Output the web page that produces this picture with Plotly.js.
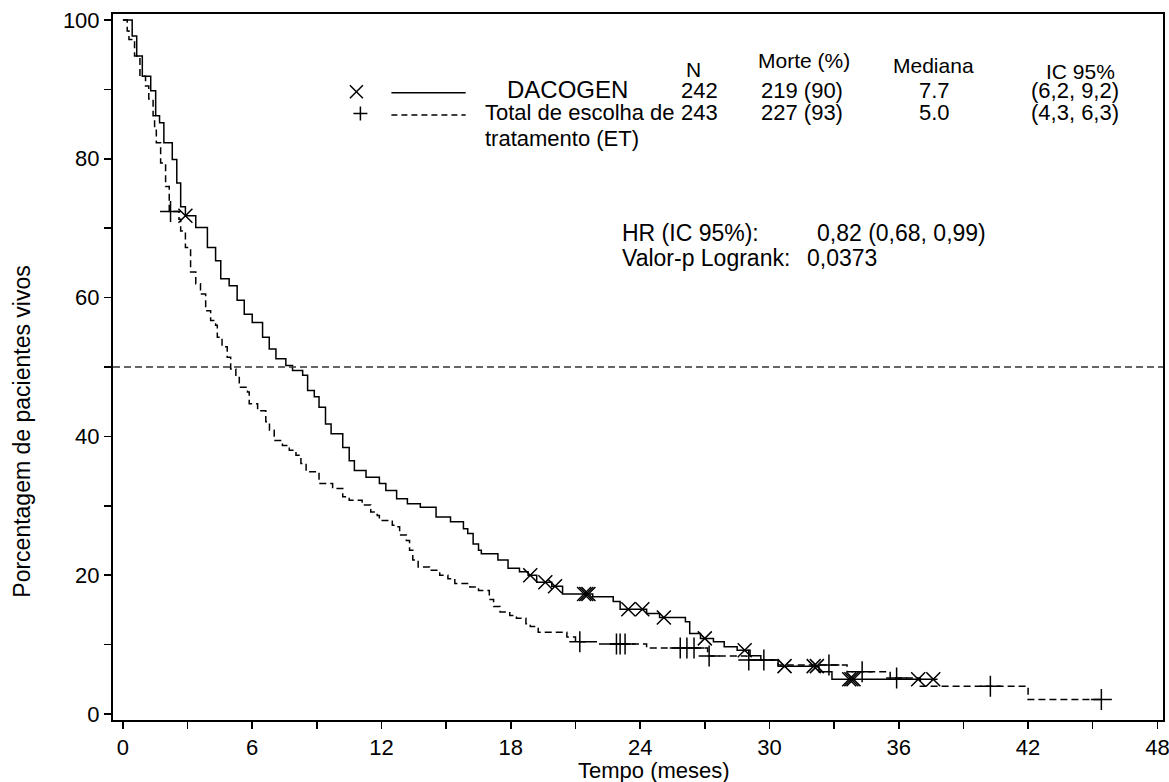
<!DOCTYPE html>
<html>
<head>
<meta charset="utf-8">
<script src="https://cdn.plot.ly/plotly-3.0.1.min.js"></script>
<style>html,body{margin:0;padding:0;background:#fff;}#chart{width:1169px;height:782px;}</style>
</head>
<body>
<div id="chart"></div>
<script>
// ---- Data ----
const dacTime = [0,0.43,0.64,0.9,1.29,1.52,1.7,1.9,2.29,2.5,2.68,2.9,3.38,3.92,4.3,4.54,4.93,5.3,5.63,6.0,6.48,6.79,7.1,7.56,7.87,8.34,8.57,8.88,9.1,9.4,9.66,10.2,10.5,10.74,11.28,11.9,12.2,12.7,13.2,13.8,14.53,15.2,15.8,16.0,16.25,16.5,16.63,17.4,17.87,18.4,18.8,19.2,19.9,20.4,21.8,22.75,23.07,24.3,24.9,26.1,26.3,26.8,27.4,27.9,28.5,29.1,29.6,30.4,32.3,32.9,37.8];
const dacSurv = [100,97.7,94.8,91.9,89.8,86.2,85.2,82.3,79.9,76.5,73.1,71.8,70.1,67.2,65.3,62.7,61.7,59.6,57.6,56.4,54.3,52.6,51.2,50.2,49.5,48.8,46.6,45.7,44.2,41.8,40.4,38.4,36.5,35.1,34.1,33.2,32.2,31.0,30.3,29.8,28.4,27.7,26.7,26.0,24.5,23.6,23.1,22.2,21.0,20.5,20.0,19.0,18.4,17.3,16.9,16.2,15.1,14.5,13.9,13.3,11.6,10.9,10.4,9.7,9.2,8.4,7.8,6.9,6.1,5.0,5.0];
const dacCensTime = [2.9,18.9,19.6,20.05,21.4,21.5,21.6,23.45,24.1,25.1,27.0,28.85,30.7,32.05,32.2,33.7,33.8,33.9,36.9,37.6];
const dacCensSurv = [71.8,20.0,19.0,18.4,17.3,17.3,17.3,15.1,15.1,13.9,10.9,9.2,6.9,6.9,6.9,5.0,5.0,5.0,5.0,5.0];

const etTime = [0,0.2,0.28,0.54,0.79,1.05,1.2,1.4,1.47,1.55,1.75,1.98,2.15,2.6,2.68,2.9,3.14,3.38,3.6,3.84,4.07,4.3,4.38,4.6,4.84,5.0,5.24,5.4,5.78,5.86,6.25,6.63,6.8,7.02,7.4,7.72,8.03,8.26,8.5,9.1,9.73,10.2,10.5,11.1,11.5,11.8,11.9,12.5,12.7,12.84,13.15,13.3,13.45,13.7,14.23,14.7,15.08,15.4,16.1,16.5,17.0,17.2,17.5,17.95,18.26,18.7,18.9,19.27,20.6,21.0,22.0,24.3,27.13,28.95,30.4,33.6,35.6,37.0,42.0,45.4];
const etSurv = [100,98.4,97.2,94.8,91.9,90.5,88.6,86.2,84.3,82.3,79.4,76.0,72.4,71.3,69.6,67.2,63.7,62.0,60.5,58.1,56.7,56.0,54.3,52.9,51.4,49.7,48.5,47.1,46.4,44.7,43.7,42.1,40.9,39.4,38.7,38.0,37.3,36.1,34.9,33.2,32.5,31.3,30.8,30.1,29.1,28.6,27.9,27.2,27.0,25.8,25.0,23.6,22.2,21.2,20.7,20.0,19.5,18.8,18.3,17.8,16.5,15.5,14.7,14.2,13.8,13.0,12.6,11.8,11.1,10.4,10.1,9.5,8.35,7.77,7.05,6.1,5.2,4.0,2.1,2.1];
const etCensTime = [2.21,21.2,22.9,23.07,23.3,25.86,26.17,26.5,27.2,29.04,29.74,32.76,34.3,35.9,40.25,45.4];
const etCensSurv = [72.4,10.4,10.1,10.1,10.1,9.5,9.5,9.5,8.35,7.77,7.77,7.05,6.1,5.2,4.0,2.1];

const xTicks = [0,6,12,18,24,30,36,42,48];
const yTicks = [0,20,40,60,80,100];
const medianLine = 50;

const headers = ["N","Morte (%)","Mediana","IC 95%"];
const groupNames = ["DACOGEN","Total de escolha de", "tratamento (ET)"];
const nPatients = ["242","243"];
const deaths = ["219 (90)","227 (93)"];
const medians = ["7.7","5.0"];
const ci95 = ["(6,2, 9,2)","(4,3, 6,3)"];
const statLabels = ["HR (IC 95%):","Valor-p Logrank:"];
const statValues = ["0,82 (0,68, 0,99)","0,0373"];

// ---- Layout helpers (pixel -> paper) ----
const L = 113.3, R = 1163.3, T = 14, B = 720;
const px = x => (x - L) / (R - L);
const py = y => (B - y) / (B - T);
const FONT = "Liberation Sans, Arial, sans-serif";

function ann(text, x, y, xanchor, size, extra) {
  return Object.assign({
    text: text, xref: 'paper', yref: 'paper', x: px(x), y: py(y),
    xanchor: xanchor || 'center', yanchor: 'middle', showarrow: false,
    font: {family: FONT, size: size || 23, color: '#000'}
  }, extra || {});
}
function seg(x0, y0, x1, y1, dash) {
  return {type: 'line', xref: 'paper', yref: 'paper', x0: px(x0), y0: py(y0), x1: px(x1), y1: py(y1),
          line: {color: '#000', width: 1.5, dash: dash || 'solid'}};
}

const traces = [
  {x: dacTime, y: dacSurv, mode: 'lines', line: {shape: 'hv', color: '#000', width: 1.5}, hoverinfo: 'skip'},
  {x: etTime, y: etSurv, mode: 'lines', line: {shape: 'hv', color: '#000', width: 1.5, dash: '7px,4px'}, hoverinfo: 'skip'},
  {x: dacCensTime, y: dacCensSurv, mode: 'markers', marker: {symbol: 'x-thin', size: 14, color: '#000', line: {width: 1.5, color: '#000'}}, hoverinfo: 'skip'},
  {x: etCensTime, y: etCensSurv, mode: 'markers', marker: {symbol: 'cross-thin', size: 15, color: '#000', line: {width: 1.5, color: '#000'}}, hoverinfo: 'skip'}
];

const annotations = [
  ann(headers[0], 694, 70, 'center', 21),
  ann(headers[1], 804, 60, 'center', 21),
  ann(headers[2], 934, 66, 'center', 21),
  ann(headers[3], 1081, 71, 'center', 21),
  ann(groupNames[0], 568, 89, 'center', 24),
  ann(nPatients[0], 700, 90, 'center', 22),
  ann(deaths[0], 802, 90, 'center', 22),
  ann(medians[0], 935, 90, 'center', 22),
  ann(ci95[0], 1075, 90, 'center', 22),
  ann(groupNames[1], 483, 113, 'left', 22),
  ann(nPatients[1], 700, 113, 'center', 22),
  ann(deaths[1], 802, 113, 'center', 22),
  ann(medians[1], 935, 113, 'center', 22),
  ann(ci95[1], 1075, 113, 'center', 22),
  ann(groupNames[2], 483, 139, 'left', 22),
  ann(statLabels[0], 620, 233, 'left'),
  ann(statValues[0], 815, 233, 'left'),
  ann(statLabels[1], 620, 258, 'left'),
  ann(statValues[1], 805, 258, 'left'),
  ann('Porcentagem de pacientes vivos', 22, 432, 'center', 23, {textangle: -90}),
  ann('Tempo (meses)', 654, 770, 'center', 22),
  ann('de pacientes em risco', 8, 778, 'left', 22, {yanchor: 'top'})
];

const shapes = [
  {type: 'line', xref: 'paper', yref: 'y', x0: 0, x1: 1, y0: medianLine, y1: medianLine,
   line: {color: '#333', width: 1.5, dash: '7px,4px'}},
  // legend samples
  seg(391.7, 92.7, 466, 92.7),
  seg(391.7, 115, 466, 115, '6px,4px'),
  seg(350.2, 85.2, 363.2, 98.2), seg(350.2, 98.2, 363.2, 85.2),
  seg(353.7, 113.5, 367.7, 113.5), seg(360.7, 106.5, 360.7, 120.5)
];

const axisCommon = {
  showline: true, linecolor: '#000', linewidth: 2, mirror: true,
  ticks: 'outside', ticklen: 7, tickwidth: 1.5, tickcolor: '#000',
  showgrid: false, zeroline: false, fixedrange: true,
  ticklabeloverflow: 'allow',
  tickfont: {family: FONT, size: 22, color: '#000'}
};

const layout = {
  width: 1169, height: 782,
  margin: {l: 113, r: 6, t: 14, b: 62, pad: 0},
  paper_bgcolor: '#fff', plot_bgcolor: '#fff',
  showlegend: false,
  xaxis: Object.assign({}, axisCommon, {
    range: [-0.46, 48.26], tickmode: 'array', tickvals: xTicks, ticktext: xTicks.map(String),
    minor: {dtick: 3, tick0: 0, ticks: 'outside', ticklen: 7, tickwidth: 1.5, tickcolor: '#000', showgrid: false}
  }),
  yaxis: Object.assign({}, axisCommon, {
    range: [-0.86, 100.86], tickmode: 'array', tickvals: yTicks, ticktext: yTicks.map(String),
    minor: {dtick: 10, tick0: 0, ticks: 'outside', ticklen: 7, tickwidth: 1.5, tickcolor: '#000', showgrid: false}
  }),
  annotations: annotations,
  shapes: shapes
};

Plotly.newPlot('chart', traces, layout, {staticPlot: true, displayModeBar: false});
</script>
</body>
</html>
